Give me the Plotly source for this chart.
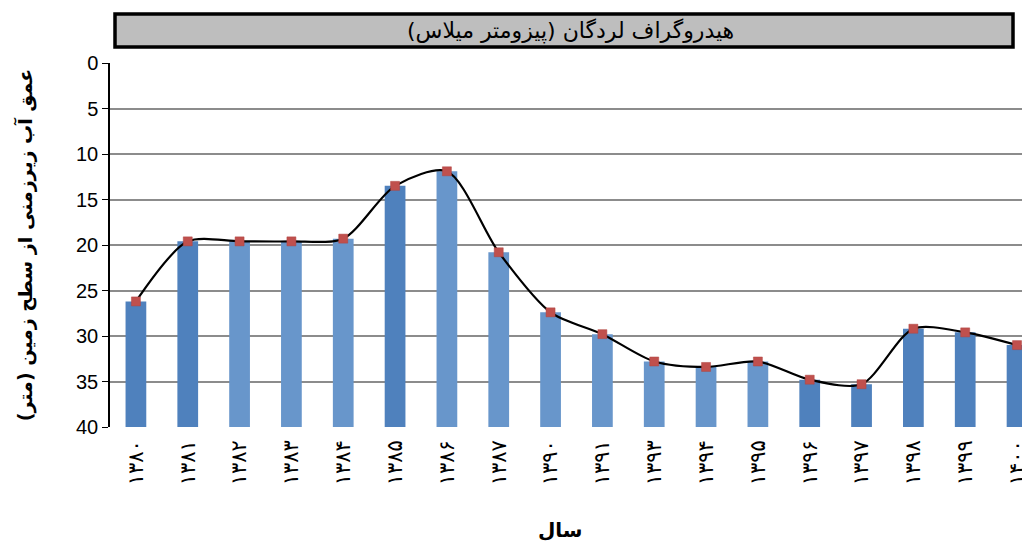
import plotly.graph_objects as go

years = ["۱۳۸۰", "۱۳۸۱", "۱۳۸۲", "۱۳۸۳", "۱۳۸۴", "۱۳۸۵", "۱۳۸۶", "۱۳۸۷", "۱۳۹۰",
         "۱۳۹۱", "۱۳۹۳", "۱۳۹۴", "۱۳۹۵", "۱۳۹۶", "۱۳۹۷", "۱۳۹۸", "۱۳۹۹", "۱۴۰۰"]
depth = [26.2, 19.6, 19.6, 19.6, 19.3, 13.5, 11.9, 20.8, 27.4,
         29.8, 32.8, 33.4, 32.8, 34.8, 35.3, 29.2, 29.6, 31.0]
y_ticks = [0, 5, 10, 15, 20, 25, 30, 35, 40]
y_max = 40

title_text = "هیدروگراف لردگان (پیزومتر میلاس)"
y_title = "عمق آب زیرزمنی از سطح زمین (متر)"
x_title = "سال"

dark = "#4F81BD"
light = "#6896CB"
bar_colors = [dark, dark, light, light, light, dark, light, light, light,
              light, light, light, light, dark, dark, dark, dark, dark]

xs = list(range(len(years)))

# page body has an 8px margin: figure is 1022x535 placed at (8, 8)
W, H = 1022, 535
PL, PR, PT, PB = 102, 1022, 55, 419   # plot area in figure pixels
pw, ph = PR - PL, PB - PT


def px(x):
    return (x - PL) / pw


def py(y):
    return (PB - y) / ph


fig = go.Figure()
fig.add_trace(go.Bar(
    x=xs, y=[d - y_max for d in depth], base=[y_max] * len(depth),
    marker=dict(color=bar_colors, line=dict(width=0)),
    width=0.4, showlegend=False, hoverinfo="skip"))
fig.add_trace(go.Scatter(
    x=xs, y=depth, mode="lines+markers",
    line=dict(color="black", width=2.2, shape="spline", smoothing=0.8),
    marker=dict(symbol="square", size=9, color="#C0504D",
                line=dict(color="#B04541", width=0.5)),
    showlegend=False))

fig.update_layout(
    width=W, height=H,
    margin=dict(l=PL, r=W - PR, t=PT, b=H - PB, autoexpand=False),
    paper_bgcolor="white", plot_bgcolor="white",
    xaxis=dict(
        range=[-0.5, 17.25], tickmode="array", tickvals=xs, ticktext=years,
        tickangle=-90, tickfont=dict(family="DejaVu Sans", size=21, color="black"),
        ticklabelstandoff=8,
        showgrid=False, zeroline=False, showline=False, ticks="",
        automargin=False,
    ),
    yaxis=dict(
        range=[y_max, 0], tickmode="array", tickvals=y_ticks,
        tickfont=dict(family="Liberation Sans", size=20, color="black"),
        showgrid=True, gridcolor="#8C8C8C", gridwidth=1.5,
        zeroline=False, showline=True, linecolor="black", linewidth=1.5,
        ticks="outside", ticklen=6, tickcolor="black",
        automargin=False,
        title=dict(text="<b>" + y_title + "</b>", font=dict(family="DejaVu Sans", size=19, color="black"),
                   standoff=38),
    ),
    shapes=[dict(type="rect", xref="paper", yref="paper",
                 x0=px(107), x1=px(1005), y0=py(39), y1=py(6),
                 fillcolor="#BEBEBE", line=dict(color="black", width=3.5))],
    annotations=[
        dict(text=title_text, xref="paper", yref="paper",
             x=px(562), y=py(23), showarrow=False, xanchor="center", yanchor="middle",
             font=dict(family="DejaVu Sans", size=22, color="black")),
        dict(text="<b>" + x_title + "</b>", xref="paper", yref="paper",
             x=px(552), y=py(522), showarrow=False, xanchor="center", yanchor="middle",
             font=dict(family="DejaVu Sans", size=20, color="black")),
    ],
)

fig.write_html("out.html")
